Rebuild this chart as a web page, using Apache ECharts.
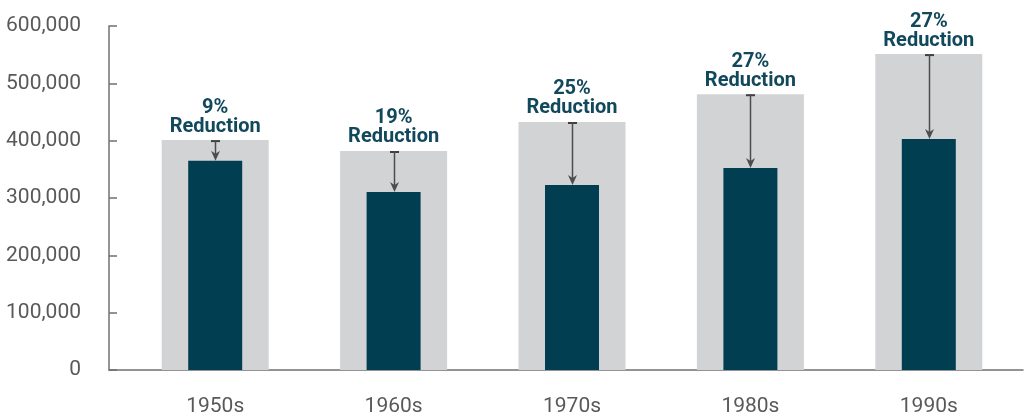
<!DOCTYPE html>
<html>
<head>
<meta charset="utf-8">
<script src="https://cdn.jsdelivr.net/npm/echarts@6/dist/echarts.min.js"></script>
<style>
  html, body { margin: 0; padding: 0; background: #fff; }
  #chart { width: 1024px; height: 420px; }
</style>
</head>
<body>
<div id="chart"></div>
<script>
var categories = ["1950s", "1960s", "1970s", "1980s", "1990s"];
var before = [401000, 382000, 432600, 481000, 551000];
var after = [365000, 310600, 322800, 352400, 403000];
var reductions = ["9%", "19%", "25%", "27%", "27%"];
var yTicks = { min: 0, max: 600000, interval: 100000 };

var myChart = echarts.init(document.getElementById("chart"));

var arrowData = [];
for (var i = 0; i < categories.length; i++) {
  arrowData.push([i, before[i], after[i]]);
}

var axisGrey = "#707070";
var font = "Roboto";

myChart.setOption({
  animation: false,
  grid: [
    // frame: axis lines
    { left: 109, right: 1, top: 26, bottom: 50 },
    // bars
    { left: 126, right: 6, top: 26, bottom: 50 },
  ],
  xAxis: [
    {
      gridIndex: 0,
      type: "category",
      data: categories,
      axisLine: { lineStyle: { color: axisGrey, width: 1.5 } },
      axisTick: { show: false },
      axisLabel: { show: false },
    },
    {
      gridIndex: 1,
      type: "category",
      data: categories,
      axisLine: { show: false },
      axisTick: { show: false },
      axisLabel: {
        margin: 26,
        fontFamily: font,
        fontSize: 21,
        color: "#595959",
      },
    },
    {
      gridIndex: 1,
      type: "category",
      data: categories,
      show: false,
    },
  ],
  yAxis: [
    {
      gridIndex: 0,
      type: "value",
      min: yTicks.min,
      max: yTicks.max,
      interval: yTicks.interval,
      axisLine: { show: true, lineStyle: { color: axisGrey, width: 1.5 } },
      axisTick: {
        show: true,
        inside: true,
        length: 8,
        lineStyle: { color: axisGrey, width: 1.5 },
      },
      splitLine: { show: false },
      axisLabel: {
        margin: 28,
        fontFamily: font,
        fontSize: 21,
        color: "#595959",
        formatter: function (v) {
          return v.toLocaleString("en-US");
        },
      },
    },
    {
      gridIndex: 1,
      type: "value",
      min: yTicks.min,
      max: yTicks.max,
      interval: yTicks.interval,
      show: false,
    },
  ],
  series: [
    {
      name: "before",
      type: "bar",
      xAxisIndex: 1,
      yAxisIndex: 1,
      barWidth: 107,
      data: before,
      itemStyle: { color: "#d1d3d4" },
      label: {
        show: true,
        position: "top",
        distance: 4,
        formatter: function (p) {
          return "{a|" + reductions[p.dataIndex] + "}\n{a|Reduction}";
        },
        rich: {
          a: {
            fontFamily: font,
            fontWeight: "bold",
            fontSize: 20,
            lineHeight: 19,
            color: "#11485c",
            align: "center",
          },
        },
      },
    },
    {
      name: "after",
      type: "bar",
      xAxisIndex: 2,
      yAxisIndex: 1,
      barWidth: 54,
      data: after,
      itemStyle: { color: "#023e52" },
    },
    {
      name: "arrows",
      type: "custom",
      xAxisIndex: 1,
      yAxisIndex: 1,
      data: arrowData,
      z: 5,
      renderItem: function (params, api) {
        var top = api.coord([api.value(0), api.value(1)]);
        var end = api.coord([api.value(0), api.value(2)]);
        var x = Math.round(top[0]) + 0.5;
        var col = "#4d4d4d";
        return {
          type: "group",
          children: [
            {
              type: "line",
              shape: { x1: x - 4.5, y1: top[1] + 1, x2: x + 4.5, y2: top[1] + 1 },
              style: { stroke: "#3f3f3f", lineWidth: 2 },
            },
            {
              type: "line",
              shape: { x1: x, y1: top[1], x2: x, y2: end[1] - 6 },
              style: { stroke: col, lineWidth: 1.5 },
            },
            {
              type: "polygon",
              shape: {
                points: [
                  [x, end[1]],
                  [x - 4.5, end[1] - 10],
                  [x, end[1] - 7],
                  [x + 4.5, end[1] - 10],
                ],
              },
              style: { fill: col },
            },
          ],
        };
      },
    },
  ],
});
</script>
</body>
</html>
